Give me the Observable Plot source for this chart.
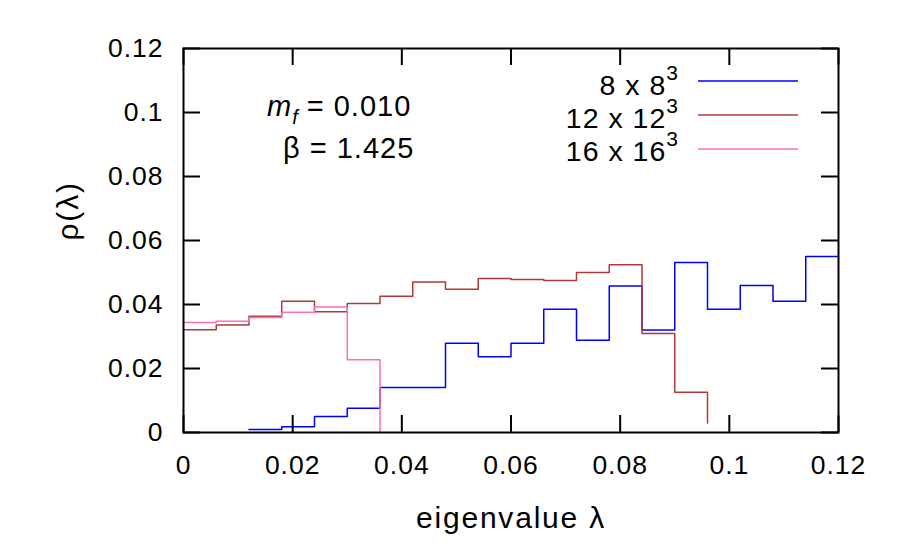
<!DOCTYPE html>
<html><head><meta charset="utf-8">
<script src="https://cdn.jsdelivr.net/npm/d3@7"></script>
<script src="https://cdn.jsdelivr.net/npm/@observablehq/plot@0.6"></script>
<style>
body{margin:0;background:#fff}
svg text{letter-spacing:1px}
</style>
</head><body><div id="chart"></div>
<script>
// 8 x 8^3 lattice
const lambda8 = [0.012,0.018,0.024,0.030,0.036,0.042,0.048,0.054,0.060,0.066,0.072,0.078,0.084,0.090,0.096,0.102,0.108,0.114,0.120];
const rho8    = [0.0009,0.0018,0.0050,0.0076,0.0141,0.0141,0.0279,0.0237,0.0279,0.0385,0.0288,0.0458,0.0320,0.0531,0.0385,0.0459,0.0410,0.0550,0.0550];
// 12 x 12^3 lattice
const lambda12 = [0,0.006,0.012,0.018,0.024,0.030,0.036,0.042,0.048,0.054,0.060,0.066,0.072,0.078,0.084,0.090,0.096];
const rho12    = [0.0321,0.0336,0.0363,0.0410,0.0377,0.0403,0.0426,0.0470,0.0448,0.0481,0.0478,0.0475,0.0500,0.0524,0.0309,0.0126,0.0030];
// 16 x 16^3 lattice
const lambda16 = [0,0.006,0.012,0.018,0.024,0.030,0.036];
const rho16    = [0.0344,0.0348,0.0359,0.0376,0.0392,0.0227,0];

const xTicks = [0,0.02,0.04,0.06,0.08,0.1,0.12];
const yTicks = [0,0.02,0.04,0.06,0.08,0.1,0.12];
const seriesNames = ["8 x 8", "12 x 12", "16 x 16"];
const seriesColors = ["#0000ff", "#b03a3a", "#ff6eb4"];

const zip = (xs, ys) => xs.map((x, i) => ({x, y: ys[i]}));

const W = 897, H = 551;
const mL = 183, mR = 59, mT = 48, mB = 119;
const fw = W - mL - mR, fh = H - mT - mB, tl = 17;

const plot = Plot.plot({
  width: W, height: H,
  marginLeft: mL, marginRight: mR, marginTop: mT, marginBottom: mB,
  style: {fontFamily: "'Liberation Sans', Arial, sans-serif", background: "white", color: "black"},
  x: {domain: [0, 0.12]},
  y: {domain: [0, 0.12]},
  marks: [
    Plot.line(zip(lambda8, rho8), {x: "x", y: "y", curve: "step-after", stroke: seriesColors[0], strokeWidth: 1.5}),
    Plot.line(zip(lambda12, rho12), {x: "x", y: "y", curve: "step-after", stroke: seriesColors[1], strokeWidth: 1.5}),
    Plot.line(zip(lambda16, rho16), {x: "x", y: "y", curve: "step-after", stroke: seriesColors[2], strokeWidth: 1.5}),
    Plot.tickX(xTicks, {x: d => d, insetTop: fh - tl, stroke: "black", strokeWidth: 2}),
    Plot.tickX(xTicks, {x: d => d, insetBottom: fh - tl, stroke: "black", strokeWidth: 2}),
    Plot.tickY(yTicks, {y: d => d, insetRight: fw - tl, stroke: "black", strokeWidth: 2}),
    Plot.tickY(yTicks, {y: d => d, insetLeft: fw - tl, stroke: "black", strokeWidth: 2}),
    Plot.frame({stroke: "black", strokeWidth: 2}),
    Plot.axisX({ticks: xTicks, tickFormat: d => String(d), tickSize: 0, tickPadding: 23, fontSize: 26.5, label: null}),
    Plot.axisY({ticks: yTicks, tickFormat: d => String(d), tickSize: 0, tickPadding: 20, fontSize: 26.5, label: null}),
    Plot.text(["eigenvalue λ"], {frameAnchor: "bottom", dy: 95, lineAnchor: "bottom", fontSize: 30, text: d => d}),
    Plot.text(["ρ(λ)"], {frameAnchor: "left", dx: -115, rotate: -90, lineAnchor: "middle", fontSize: 30, text: d => d})
  ]
});

const svg = d3.select(plot);
svg.selectAll("text").filter(function(){ return this.textContent === "eigenvalue λ" || this.textContent === "ρ(λ)"; })
   .style("letter-spacing", "1.8px");

// annotations
const ann = svg.append("g").attr("font-size", 29).attr("text-anchor", "start").style("letter-spacing", "2.2px");
const t1 = ann.append("text").attr("x", 267).attr("y", 116);
t1.append("tspan").attr("font-style", "italic").text("m");
t1.append("tspan").attr("font-style", "italic").attr("font-size", 20).attr("dy", 8).attr("dx", 0).text("f");
t1.append("tspan").attr("dy", -8).attr("dx", 8).text("= 0.010");
ann.append("text").attr("x", 283).attr("y", 158).text("β = 1.425");

// legend
const leg = svg.append("g").attr("font-size", 28.5).style("letter-spacing", "2.2px");
const rows = [95, 128, 161];
const lineY = [81, 115, 149];
seriesNames.forEach((name, i) => {
  const t = leg.append("text").attr("x", 679).attr("y", rows[i]).attr("text-anchor", "end");
  t.append("tspan").text(name);
  t.append("tspan").attr("font-size", 21).attr("dy", -15).text("3");
  leg.append("line").attr("x1", 698).attr("x2", 798).attr("y1", lineY[i]).attr("y2", lineY[i])
     .attr("stroke", seriesColors[i]).attr("stroke-width", 1.4);
});

document.getElementById("chart").appendChild(plot);
</script>
</body></html>
